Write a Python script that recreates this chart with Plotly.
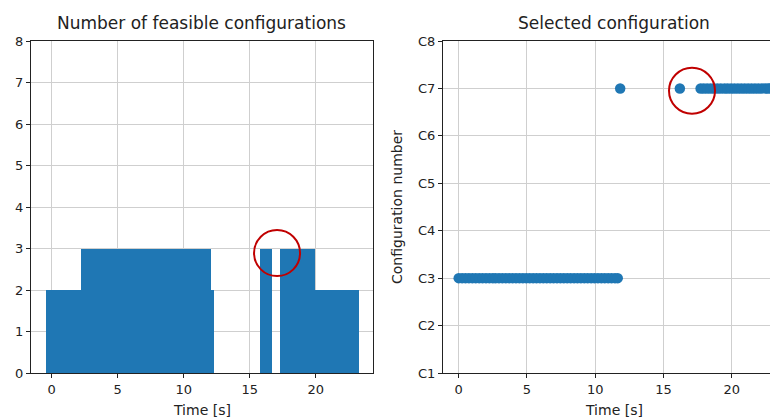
import plotly.graph_objects as go

# Time samples [s]
time_s = [0.0, 0.25, 0.5, 0.75, 1.0, 1.25, 1.5, 1.75, 2.0, 2.25, 2.5,
          2.7, 2.95, 3.2, 3.45, 3.7, 3.95, 4.2, 4.45, 4.7, 4.95, 5.2, 5.45, 5.7, 5.95,
          6.2, 6.45, 6.7, 6.95, 7.2, 7.45, 7.7, 7.95, 8.2, 8.45, 8.7, 8.95, 9.2, 9.45,
          9.7, 9.95, 10.2, 10.45, 10.7, 10.95, 11.2, 11.45, 11.65,
          11.83,
          16.2,
          17.72, 17.95, 18.2, 18.45, 18.7, 18.95, 19.2, 19.47,
          19.7, 19.95, 20.2, 20.45, 20.7, 20.95, 21.2, 21.45, 21.7, 21.95, 22.2, 22.45, 22.65, 22.82]
# Number of feasible configurations at each sample
n_feasible = [2, 2, 2, 2, 2, 2, 2, 2, 2, 2, 2,
              3, 3, 3, 3, 3, 3, 3, 3, 3, 3, 3, 3, 3, 3,
              3, 3, 3, 3, 3, 3, 3, 3, 3, 3, 3, 3, 3, 3,
              3, 3, 3, 3, 3, 3, 3, 3, 3,
              2,
              3,
              3, 3, 3, 3, 3, 3, 3, 3,
              2, 2, 2, 2, 2, 2, 2, 2, 2, 2, 2, 2, 2, 2]
# Selected configuration index (C1..C8)
selected = [3, 3, 3, 3, 3, 3, 3, 3, 3, 3, 3,
            3, 3, 3, 3, 3, 3, 3, 3, 3, 3, 3, 3, 3, 3,
            3, 3, 3, 3, 3, 3, 3, 3, 3, 3, 3, 3, 3, 3,
            3, 3, 3, 3, 3, 3, 3, 3, 3,
            7,
            7,
            7, 7, 7, 7, 7, 7, 7, 7,
            7, 7, 7, 7, 7, 7, 7, 7, 7, 7, 7, 7, 7, 7]
config_labels = ["C1", "C2", "C3", "C4", "C5", "C6", "C7", "C8"]
config_values = [1, 2, 3, 4, 5, 6, 7, 8]
x_ticks = [0, 5, 10, 15, 20]
left_y_ticks = [0, 1, 2, 3, 4, 5, 6, 7, 8]
highlight_left = (17.07, 2.89)
highlight_right = (17.09, 6.95)

OFF = 8  # default page body margin
W, H = 778 - OFF, 419 - OFF
BLUE = "#1f77b4"
FONT = "DejaVu Sans"

fig = go.Figure()
fig.add_trace(go.Bar(x=time_s, y=n_feasible, width=0.9, marker=dict(color=BLUE, line=dict(width=0)),
                     xaxis="x", yaxis="y", showlegend=False))
fig.add_trace(go.Scatter(x=time_s, y=selected, mode="markers",
                         marker=dict(color=BLUE, size=10.5, line=dict(width=0)),
                         xaxis="x2", yaxis="y2", showlegend=False))

def px(x):
    return (x - OFF) / W

def py(y):
    return 1 - (y - OFF) / H

ydom = [py(373), py(41)]
axis_common = dict(showline=True, linecolor="#222", linewidth=1, ticks="outside", ticklen=4,
                   tickcolor="#222", showgrid=True, gridcolor="#cfcfcf", gridwidth=1,
                   zeroline=False, automargin=False,
                   tickfont=dict(family=FONT, size=13, color="#222"))

fig.update_layout(
    template="none",
    width=W, height=H, margin=dict(l=0, r=0, t=0, b=0, pad=0),
    paper_bgcolor="white", plot_bgcolor="white", bargap=0, barmode="overlay",
    xaxis=dict(domain=[px(31), px(373)], range=[-1.57, 24.34], tickvals=x_ticks, mirror=True,
               anchor="y", **axis_common),
    yaxis=dict(domain=ydom, range=[0, 8], tickvals=left_y_ticks, mirror=True, anchor="x", **axis_common),
    xaxis2=dict(domain=[px(443), 1.0], range=[-1.15, 23.39], tickvals=x_ticks, mirror=True,
                anchor="y2", **axis_common),
    yaxis2=dict(domain=ydom, range=[1, 8], tickvals=config_values, ticktext=config_labels,
                mirror=False, anchor="x2", **axis_common),
    font=dict(family=FONT, color="#222"),
)

annots = [
    dict(text="Number of feasible configurations", x=px(202), y=py(23), size=17, angle=0),
    dict(text="Selected configuration", x=px(614), y=py(23), size=17, angle=0),
    dict(text="Time [s]", x=px(202), y=py(410), size=14, angle=0),
    dict(text="Time [s]", x=px(614), y=py(410), size=14, angle=0),
    dict(text="Configuration number", x=px(397), y=py(207), size=14, angle=-90),
]
for a in annots:
    fig.add_annotation(text=a["text"], x=a["x"], y=a["y"], xref="paper", yref="paper",
                       xanchor="center", yanchor="middle", showarrow=False, textangle=a["angle"],
                       font=dict(family=FONT, size=a["size"], color="#222"))

for (xa, ya), (cx, cy) in [(("x", "y"), highlight_left), (("x2", "y2"), highlight_right)]:
    fig.add_shape(type="circle", xref=xa, yref=ya, xsizemode="pixel", ysizemode="pixel",
                  xanchor=cx, yanchor=cy, x0=-23, x1=23, y0=-23, y1=23,
                  line=dict(color="#c00000", width=2))

fig.write_html("out.html")
